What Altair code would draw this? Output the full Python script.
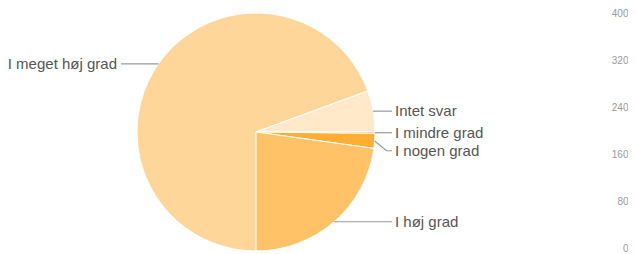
import math
import altair as alt
import pandas as pd

# ---- data ----
categories = ["I meget høj grad", "Intet svar", "I mindre grad", "I nogen grad", "I høj grad"]
counts = [347, 28, 1, 10, 114]
colors = ["#FFD699", "#FFE9C9", "#FF9900", "#FFAD33", "#FFC266"]
axis_ticks = [0, 80, 160, 240, 320, 400]

# ---- layout (pixel space of the plot area) ----
W, H = 620, 246
CX, CY = 248, 124
R = 119
START = math.pi
GAP = 18
RIGHT_TEXT_X = CX + R + 20
LEFT_TEXT_X = CX - R - 20

total = sum(counts)
rows = []
cum = 0
for i, (c, v) in enumerate(zip(categories, counts)):
    a0 = START + 2 * math.pi * cum / total
    cum += v
    a1 = START + 2 * math.pi * cum / total
    mid = (a0 + a1) / 2
    ax = CX + R * math.sin(mid)
    ay = CY - R * math.cos(mid)
    side = "right" if math.sin(mid) > 0 else "left"
    rows.append(dict(cat=c, value=v, order=i, ax=ax, ay=ay, side=side))

# simple label collision avoidance per side
for side in ("left", "right"):
    prev = -1e9
    for r in sorted([r for r in rows if r["side"] == side], key=lambda r: r["ay"]):
        r["ly"] = max(r["ay"], prev + GAP)
        prev = r["ly"]

df = pd.DataFrame(rows)

line_rows = []
for r in rows:
    dy = abs(r["ly"] - r["ay"])
    if r["side"] == "right":
        ex = r["ax"] + dy + 2
        end = RIGHT_TEXT_X - 3
    else:
        ex = r["ax"] - dy - 2
        end = LEFT_TEXT_X + 4
    pts = [(r["ax"], r["ay"]), (ex, r["ly"]), (end, r["ly"])]
    for k, (x, y) in enumerate(pts):
        line_rows.append(dict(cat=r["cat"], idx=k, x=x, y=y))
ldf = pd.DataFrame(line_rows)

df["tx"] = [RIGHT_TEXT_X if s == "right" else LEFT_TEXT_X for s in df["side"]]

xs = alt.Scale(domain=[0, W])
ys = alt.Scale(domain=[0, H], reverse=True)

pie = alt.Chart(df).mark_arc(outerRadius=R, stroke="white", strokeWidth=1).encode(
    theta=alt.Theta("value:Q", stack=True, scale=alt.Scale(range=[math.pi, 3 * math.pi])),
    color=alt.Color("cat:N", scale=alt.Scale(domain=categories, range=colors), legend=None),
    order=alt.Order("order:Q"),
    x=alt.value(CX),
    y=alt.value(CY),
)

lines = alt.Chart(ldf).mark_line(color="#999999", strokeWidth=1.2).encode(
    x=alt.X("x:Q", scale=xs, axis=None),
    y=alt.Y("y:Q", scale=ys, axis=None),
    detail="cat:N",
    order="idx:Q",
)

text_r = alt.Chart(df).transform_filter(alt.datum.side == "right").mark_text(
    align="left", baseline="middle", font="Liberation Sans", fontSize=15, color="#555555"
).encode(
    x=alt.X("tx:Q", scale=xs, axis=None),
    y=alt.Y("ly:Q", scale=ys, axis=None),
    text="cat:N",
)

text_l = alt.Chart(df).transform_filter(alt.datum.side == "left").mark_text(
    align="right", baseline="middle", font="Liberation Sans", fontSize=15, color="#555555"
).encode(
    x=alt.X("tx:Q", scale=xs, axis=None),
    y=alt.Y("ly:Q", scale=ys, axis=None),
    text="cat:N",
)

pie_layers = alt.layer(pie, lines, text_r, text_l)

axis_layer = alt.Chart(pd.DataFrame({"v": axis_ticks})).mark_point(opacity=0).encode(
    y=alt.Y(
        "v:Q",
        scale=alt.Scale(domain=[0, 400], range=[240, 5]),
        axis=alt.Axis(
            orient="right", values=axis_ticks, title=None, domain=False, ticks=False,
            tickSize=0, grid=False, labelColor="#999999", labelFontSize=10,
            labelFont="Liberation Sans", labelPadding=0, labelAlign="right",
        ),
    )
)

chart = alt.layer(pie_layers, axis_layer).resolve_scale(y="independent").properties(
    width=W, height=H, padding=0, autosize=alt.AutoSizeParams(type="none")
).configure_view(strokeWidth=0)

chart.save("out.html", embed_options={"renderer": "svg", "actions": False})
